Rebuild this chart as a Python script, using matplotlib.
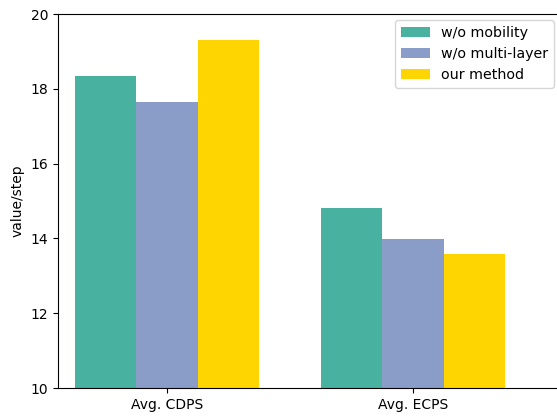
import numpy as np
import matplotlib
matplotlib.use("Agg")
import matplotlib.pyplot as plt

metrics = ["Avg. CDPS", "Avg. ECPS"]
methods = ["w/o mobility", "w/o multi-layer", "our method"]
no_mobility = [18.35, 14.81]
no_multilayer = [17.66, 13.99]
our_method = [19.31, 13.59]
colors = ["#48b1a0", "#8a9dc8", "#ffd500"]

W, H = 557, 419
fig = plt.figure(figsize=(W / 100, H / 100), dpi=100)
ax = fig.add_axes([58 / W, (H - 388) / H, (566 - 58) / W, (388 - 14) / H])

x = np.arange(len(metrics))
width = 0.25
for i, (vals, name) in enumerate(zip([no_mobility, no_multilayer, our_method], methods)):
    ax.bar(x + (i - 1) * width, vals, width, label=name, color=colors[i])

ax.set_xticks(x)
ax.set_xticklabels(metrics)
ax.set_ylim(10, 20)
ax.set_xlim(-0.443, 1.622)
ax.set_ylabel("value/step")
# legend sits just inside the clipped right edge
ax.legend(loc="upper right", fontsize=10.3,
          bbox_to_anchor=((554 - 58) / (566 - 58), 1 - 6 / 374), borderaxespad=0.0)

fig.savefig("out.png", dpi=100)
